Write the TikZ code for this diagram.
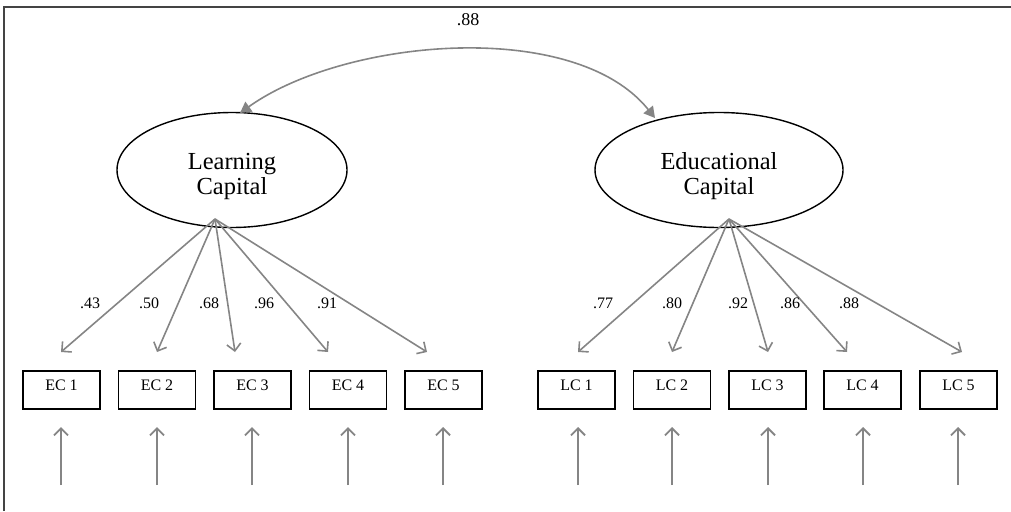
\documentclass[tikz,border=0pt]{standalone}
\usepackage{fontspec}
\setmainfont{Liberation Serif}
\usetikzlibrary{arrows.meta,shapes.geometric}
\definecolor{arrowgray}{HTML}{858585}
\definecolor{framegray}{HTML}{444444}
\begin{document}
\begin{tikzpicture}[x=1pt,y=-1pt,
  latent/.style={ellipse,draw=black,line width=1.4pt,inner sep=0pt},
  ltext/.style={inner sep=0pt,align=center,font=\fontsize{24.5}{25}\selectfont},
  obs/.style={draw=black,line width=1.5pt,minimum width=77pt,minimum height=38pt,
    inner sep=0pt,text height=6pt,text depth=6pt,font=\fontsize{16}{18}\selectfont},
  load/.style={draw=arrowgray,line width=1.6pt,-{Straight Barb[length=7pt,width=14pt]}},
  err/.style={draw=arrowgray,line width=1.9pt,-{Straight Barb[length=7pt,width=14pt]}},
  cov/.style={draw=arrowgray,line width=1.6pt,{Triangle[length=11pt,width=12pt]}-{Triangle[length=11pt,width=12pt]}},
  lbl/.style={inner sep=0pt,font=\fontsize{16}{18}\selectfont},
]
\useasboundingbox (0,0) rectangle (1011,511);
\draw[framegray,line width=1.3pt] (4,511) -- (4,7) -- (1011,7);

% latent variables
\node[latent,minimum width=230pt,minimum height=115pt] (lc) at (232,170) {};
\node[ltext] (lct) at (lc.center) [yshift=-6pt] {Learning\\Capital};
\node[latent,minimum width=248pt,minimum height=115pt] (ec) at (719,170) {};
\node[ltext] (ect) at (ec.center) [yshift=-6pt] {Educational\\Capital};

% covariance
\coordinate (lctop) at (240,113);
\coordinate (ectop) at (655,118);
\draw[cov] (lctop) .. controls (345,38) and (575,18) .. (ectop);
\node[inner sep=0pt,font=\fontsize{18}{20}\selectfont] (r) at (468,20) {.88};

% observed boxes
\foreach \n/\x in {1/61.5,2/157,3/252.5,4/348,5/443.5}{
  \node[obs] (e\n) at (\x,390) {EC \n};
}
\foreach \n/\x in {1/576.5,2/672,3/767.5,4/862.5,5/958.5}{
  \node[obs] (l\n) at (\x,390) {LC \n};
}

% loadings
\coordinate (lca) at (215,219);
\coordinate (eca) at (729,219);
\foreach \n/\x in {1/61,2/157,3/235,4/328,5/427}{
  \coordinate (te\n) at (\x,352);
  \draw[load] (lca) -- (te\n);
}
\foreach \n/\x in {1/578,2/672,3/768,4/847,5/962}{
  \coordinate (tl\n) at (\x,352);
  \draw[load] (eca) -- (tl\n);
}
\node[lbl] (a1) at (90,303) {.43};
\node[lbl] (a2) at (149,303) {.50};
\node[lbl] (a3) at (209,303) {.68};
\node[lbl] (a4) at (264,303) {.96};
\node[lbl] (a5) at (327,303) {.91};
\node[lbl] (b1) at (603,303) {.77};
\node[lbl] (b2) at (672,303) {.80};
\node[lbl] (b3) at (738,303) {.92};
\node[lbl] (b4) at (790,303) {.86};
\node[lbl] (b5) at (849,303) {.88};

% error arrows
\foreach \n/\x in {1/61,2/157,3/252,4/348,5/443}{
  \coordinate (se\n) at (\x,485);
  \coordinate (ue\n) at (\x,427);
  \draw[err] (se\n) -- (ue\n);
}
\foreach \n/\x in {1/578,2/672,3/768,4/863,5/958}{
  \coordinate (sl\n) at (\x,485);
  \coordinate (ul\n) at (\x,427);
  \draw[err] (sl\n) -- (ul\n);
}
\end{tikzpicture}
\end{document}
